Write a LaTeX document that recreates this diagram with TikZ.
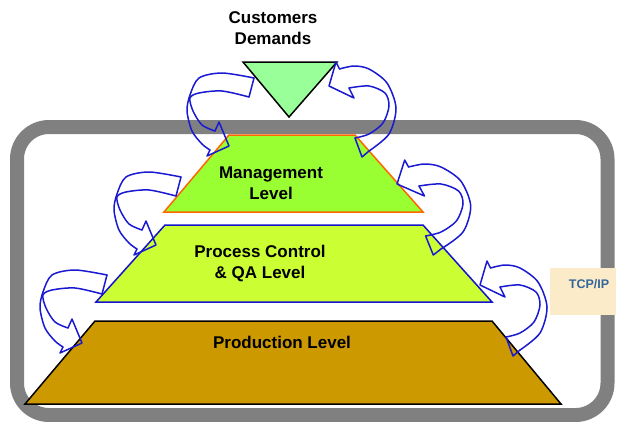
\documentclass[tikz,border=0pt]{standalone}
\usepackage{fontspec}
\setmainfont{Liberation Sans}
\definecolor{framegray}{RGB}{128,128,128}
\definecolor{trigreen}{RGB}{153,255,153}
\definecolor{mgmtgreen}{RGB}{153,255,51}
\definecolor{procgreen}{RGB}{204,255,51}
\definecolor{prodbrown}{RGB}{204,153,0}
\definecolor{edgeorange}{RGB}{255,102,0}
\definecolor{edgeblue}{RGB}{20,20,204}
\definecolor{arrowblue}{RGB}{25,25,210}
\definecolor{tcpfill}{RGB}{252,235,200}
\definecolor{tcptext}{RGB}{51,102,153}
\begin{document}
\begin{tikzpicture}[x=1pt,y=-1pt,
  frame/.style={draw=framegray, line width=14pt, rounded corners=32pt},
  levelshape/.style={line width=1.5pt, line join=miter},
  txt/.style={font=\bfseries\fontsize{17}{21}\selectfont, align=center, inner sep=0pt},
  arr/.style={draw=arrowblue, line width=1.5pt, line join=round, line cap=round},
  leftcurl/.pic={
    \draw[arr] plot[smooth] coordinates {(82,10) (50,5) (27,10) (18,27) (15,43) (20,63) (30,76) (38,82)};
    \draw[arr] plot[smooth] coordinates {(77,29) (50,23) (27,25) (18,30) (21,43) (30,57) (43,63)};
    \draw[arr] (43,63) -- (47,54) -- (57,78) -- (35,88) -- (38,82);
    \draw[arr] (82,10) -- (77,29);
  },
  rightcurl/.pic={
    \draw[arr] plot[smooth] coordinates {(20.5,18) (35,15) (50,18) (68,32) (77,57) (70,83) (50,100)};
    \draw[arr] plot[smooth] coordinates {(30,37) (50,35) (66,42) (70,55) (64,72) (50,83) (36,87)};
    \draw[arr] (20.5,18) -- (17,11) -- (10,35) -- (35,47) -- (30,37);
    \draw[arr] (36,87) -- (43,106) -- (50,100);
  }
]
\useasboundingbox (0,0) rectangle (617,421);
% frame
\draw[frame] (17,127) rectangle (607.5,415);
% TCP/IP box
\fill[tcpfill] (550,268) rectangle (616,315);
\node[font=\bfseries\fontsize{12.5}{14}\selectfont, text=tcptext, inner sep=0pt] (tcp) at (589,284.5) {TCP/IP};
% levels
\draw[levelshape, fill=prodbrown, draw=black] (95,321) -- (492,321) -- (561,404) -- (25,404) -- cycle;
\draw[levelshape, fill=procgreen, draw=edgeblue] (165,225) -- (423,225) -- (492,302) -- (96,302) -- cycle;
\draw[levelshape, fill=mgmtgreen, draw=edgeorange] (229,135) -- (355,135) -- (423,212) -- (164,212) -- cycle;
\draw[levelshape, fill=trigreen, draw=black] (243,62) -- (337,62) -- (289,117) -- cycle;
% texts
\node[txt] (cust) at (273,28.5) {Customers\\Demands};
\node[txt] (mgmt) at (271,183.5) {Management\\Level};
\node[txt] (proc) at (260,264) {Process Control\\\& QA Level};
\node[txt] (prod) at (282,342) {Production Level};
% curved arrows
\pic at (172,68) {leftcurl};
\pic at (99,167) {leftcurl};
\pic at (25,265) {leftcurl};
\pic at (319,51) {rightcurl};
\pic[xscale=1.1] at (386,149) {rightcurl};
\pic at (470,250) {rightcurl};
\end{tikzpicture}
\end{document}
